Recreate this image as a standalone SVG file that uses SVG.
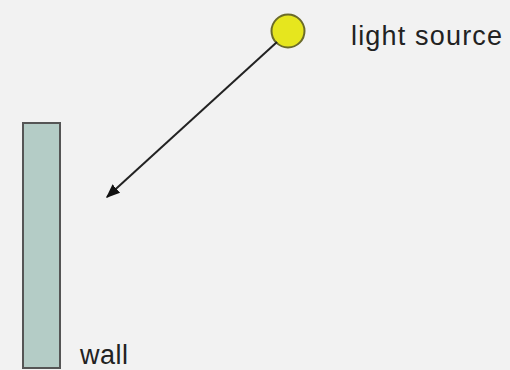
<svg xmlns="http://www.w3.org/2000/svg" width="510" height="370" viewBox="0 0 510 370">
<style>
text{font-family:"Liberation Sans",Arial,sans-serif;font-size:27px;fill:#222}
</style>
<defs>
<marker id="ah" viewBox="0 0 10 10" refX="9" refY="5" markerWidth="7" markerHeight="7" orient="auto" markerUnits="strokeWidth">
<path d="M0,1 L10,5 L0,9 z" fill="#111"/>
</marker>
</defs>
<rect width="510" height="370" fill="#f2f2f2"/>
<g id="wall">
<rect x="23" y="123" width="37" height="245" fill="#b4ccc6" stroke="#555" stroke-width="2"/>
<text x="80" y="364" textLength="48">wall</text>
</g>
<g id="light">
<circle cx="288" cy="31" r="16.5" fill="#e6e61e" stroke="#6b6b2a" stroke-width="2"/>
<text x="351" y="45" textLength="151">light source</text>
</g>
<g id="connectors">
<line x1="277" y1="42" x2="107" y2="197" stroke="#222" stroke-width="2" marker-end="url(#ah)"/>
</g>
</svg>
